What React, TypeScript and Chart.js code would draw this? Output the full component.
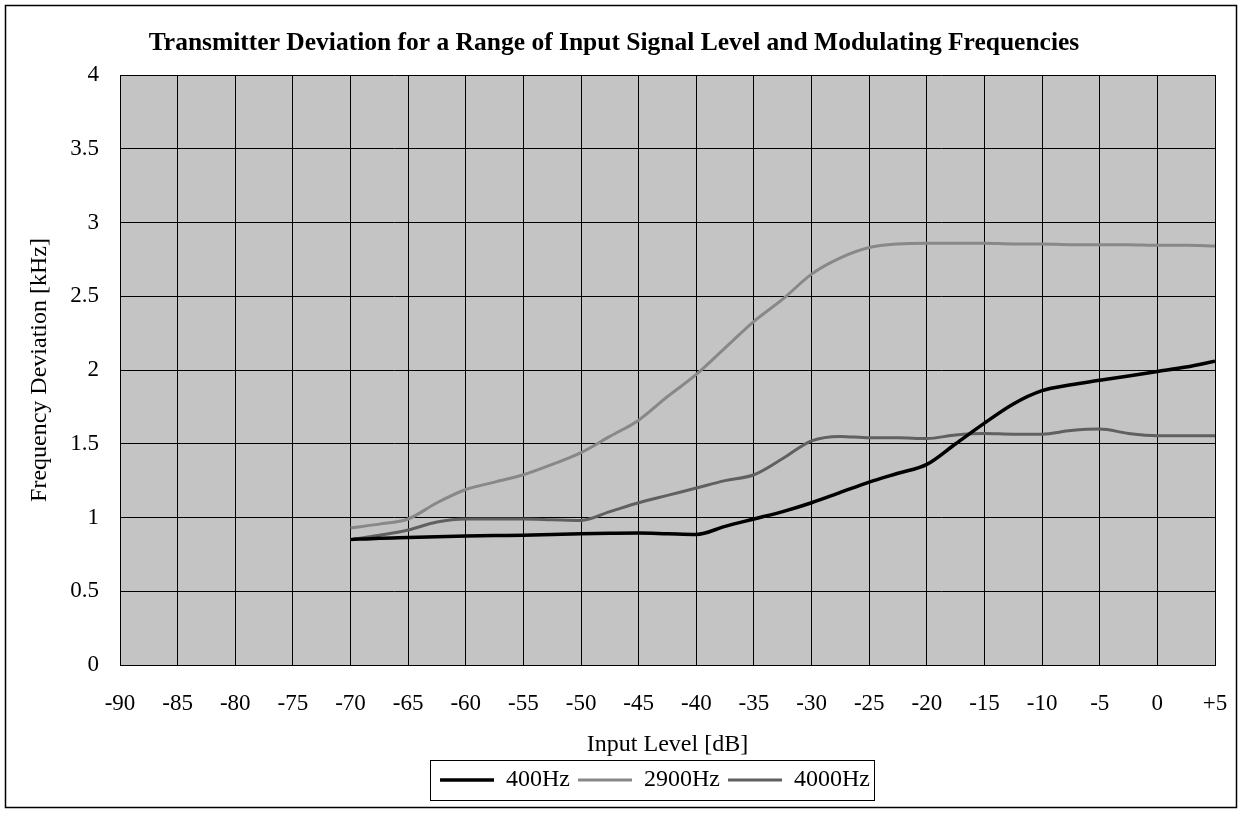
import React, { useEffect, useRef } from 'react';
import { Chart, registerables } from 'chart.js';

Chart.register(...registerables);

// Input level (dB) at which the curves were read
const levels = [
  -70, -67.5, -65, -62.5, -60, -57.5, -55, -52.5, -50, -47.5, -45, -42.5, -40, -37.5, -35,
  -32.5, -30, -27.5, -25, -22.5, -20, -17.5, -15, -12.5, -10, -7.5, -5, -2.5, 0, 2.5, 5,
];

// Frequency deviation (kHz)
const dev400 = [
  0.85, 0.86, 0.865, 0.87, 0.875, 0.878, 0.88, 0.885, 0.89, 0.893, 0.895, 0.89, 0.885, 0.94, 0.99,
  1.04, 1.1, 1.17, 1.24, 1.3, 1.36, 1.5, 1.64, 1.77, 1.86, 1.9, 1.93, 1.96, 1.99, 2.02, 2.06,
];
const dev2900 = [
  0.93, 0.955, 0.99, 1.1, 1.19, 1.24, 1.29, 1.36, 1.44, 1.55, 1.66, 1.82, 1.97, 2.15, 2.33,
  2.48, 2.65, 2.76, 2.83, 2.855, 2.86, 2.86, 2.86, 2.855, 2.855, 2.85, 2.85, 2.85, 2.845, 2.845, 2.84,
];
const dev4000 = [
  0.85, 0.88, 0.915, 0.97, 0.99, 0.99, 0.99, 0.985, 0.98, 1.04, 1.1, 1.15, 1.2, 1.25, 1.29,
  1.4, 1.52, 1.55, 1.54, 1.54, 1.535, 1.56, 1.57, 1.565, 1.565, 1.59, 1.6, 1.57, 1.555, 1.555, 1.555,
];

const seriesNames = ['400Hz', '2900Hz', '4000Hz'];
const seriesColors = ['#000000', '#888888', '#606060'];
const seriesWidths = [3.5, 3, 3];

const xTickMin = -90;
const xTickMax = 5;
const xTickStep = 5;
const yTickMin = 0;
const yTickMax = 4;
const yTickStep = 0.5;

const titleText = 'Transmitter Deviation for a Range of Input Signal Level and Modulating Frequencies';
const xTitle = 'Input Level [dB]';
const yTitle = 'Frequency Deviation [kHz]';

const SERIF = "'Liberation Serif', 'Times New Roman', serif";

export default function App() {
  const ref = useRef<HTMLCanvasElement>(null);

  useEffect(() => {
    if (!ref.current) return;
    const allSeries = [dev400, dev2900, dev4000];
    const datasets = allSeries.map((vals, i) => ({
      label: seriesNames[i],
      data: levels.map((x, j) => ({ x, y: vals[j] })),
      borderColor: seriesColors[i],
      backgroundColor: seriesColors[i],
      borderWidth: seriesWidths[i],
      pointRadius: 0,
      pointHoverRadius: 0,
      fill: false,
      cubicInterpolationMode: 'monotone' as const,
    }));

    const decor = {
      id: 'decor',
      afterLayout(chart: any) {
        const lg = chart.legend;
        if (lg) {
          lg.left += 41;
          lg.right += 41;
        }
      },
      beforeDraw(chart: any) {
        const { ctx, chartArea: a } = chart;
        ctx.save();
        ctx.fillStyle = '#c4c4c4';
        ctx.fillRect(a.left, a.top, a.right - a.left, a.bottom - a.top);
        ctx.restore();
      },
      afterDraw(chart: any) {
        const { ctx } = chart;
        ctx.save();
        ctx.strokeStyle = '#000';
        ctx.lineWidth = 1.5;
        ctx.strokeRect(5.5, 5.5, 1231, 802);
        const boxes = chart.legend?.legendHitBoxes || [];
        if (boxes.length) {
          let l = Infinity, r = -Infinity, t = Infinity, b = -Infinity;
          boxes.forEach((h: any) => {
            l = Math.min(l, h.left);
            r = Math.max(r, h.left + h.width);
            t = Math.min(t, h.top);
            b = Math.max(b, h.top + h.height);
          });
          ctx.lineWidth = 1;
          ctx.strokeRect(Math.round(l - 10) + 0.5, Math.round(t - 8) + 0.5, Math.round(r - l + 14), Math.round(b - t + 16));
        }
        ctx.restore();
      },
    };

    const chart = new Chart(ref.current, {
      type: 'line',
      data: { datasets },
      options: {
        animation: false,
        responsive: false,
        maintainAspectRatio: false,
        layout: { padding: { left: 13, right: 26, top: 0, bottom: 12 } },
        plugins: {
          tooltip: { enabled: false },
          title: {
            display: true,
            text: titleText,
            color: '#000',
            font: { family: SERIF, size: 25.5, weight: 'bold' },
            padding: { top: 27.7, bottom: 16.7 },
          },
          legend: {
            display: true,
            position: 'bottom',
            labels: {
              usePointStyle: true,
              pointStyle: 'line',
              pointStyleWidth: 54,
              color: '#000',
              font: { family: SERIF, size: 24 },
              padding: 8,
            },
          },
        },
        scales: {
          x: {
            type: 'linear',
            min: xTickMin,
            max: xTickMax,
            afterFit: (s: any) => { s.height = 95; },
            ticks: {
              stepSize: xTickStep,
              color: '#000',
              font: { family: SERIF, size: 23 },
              padding: 0,
              maxRotation: 0,
              autoSkip: false,
              callback: (v: any) => (Number(v) === 5 ? '+5' : String(v)),
            },
            grid: { color: '#000', lineWidth: 1, drawTicks: true, tickLength: 25, tickColor: 'rgba(0,0,0,0)' },
            border: { color: '#000', width: 1 },
            title: {
              display: true,
              text: xTitle,
              color: '#000',
              font: { family: SERIF, size: 24 },
              padding: { top: 0, bottom: 0.6 },
            },
          },
          y: {
            type: 'linear',
            min: yTickMin,
            max: yTickMax,
            afterFit: (s: any) => { s.width = 107; },
            ticks: {
              stepSize: yTickStep,
              color: '#000',
              font: { family: SERIF, size: 23 },
              padding: 0,
              callback: (v: any) => String(v),
            },
            grid: { color: '#000', lineWidth: 1, drawTicks: true, tickLength: 21, tickColor: 'rgba(0,0,0,0)' },
            border: { color: '#000', width: 1 },
            title: {
              display: true,
              text: yTitle,
              color: '#000',
              font: { family: SERIF, size: 24 },
              padding: { top: 12.6, bottom: 0 },
            },
          },
        },
      },
      plugins: [decor],
    });
    return () => chart.destroy();
  }, []);

  return (
    <canvas
      ref={ref}
      width={1241}
      height={814}
      style={{ position: 'absolute', left: 0, top: 0, width: 1241, height: 814 }}
    />
  );
}
